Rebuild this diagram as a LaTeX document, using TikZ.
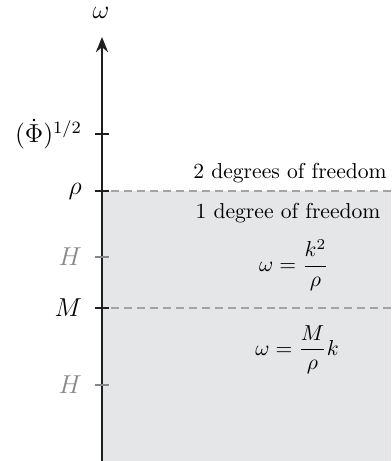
\documentclass[tikz,border=0pt]{standalone}
\usepackage{amsmath}
\usetikzlibrary{arrows.meta}

\definecolor{regiongray}{RGB}{229,230,232}
\definecolor{dashgray}{RGB}{163,163,163}
\definecolor{labelgray}{RGB}{135,135,135}

\begin{document}
\begin{tikzpicture}[x=0.463pt, y=0.463pt, >={Stealth[length=7pt, width=5.6pt]}, line width=1.15pt]
  \useasboundingbox (0,0) rectangle (391,461);
  % region below rho (shaded)
  \fill[regiongray] (102,0) rectangle (391,270);
  % frequency axis
  \coordinate (base) at (102,0);
  \coordinate (tip) at (102,424);
  \draw[->, black!88] (base) -- (tip);
  \node[font=\large] (omega) at (101,448) {$\omega$};
  % ticks on the axis
  \foreach \yy/\lab/\name in {327/{(\dot\Phi)^{1/2}}/phi, 270/\rho/rho, 153/M/mass}{
    \draw[black!88, line width=1pt] (95,\yy) -- (109,\yy);
    \node[anchor=east, inner sep=0pt, font=\large] (\name) at (83,\yy) {$\lab$};
  }
  \foreach \yy/\name in {204/hup, 76/hdown}{
    \draw[labelgray, line width=0.9pt] (95,\yy) -- (109,\yy);
    \node[anchor=east, inner sep=0pt, font=\large, text=labelgray] (\name) at (83,\yy) {$H$};
  }
  % borders between the regimes
  \draw[dashgray, line width=0.9pt, dash pattern=on 3.7pt off 2.3pt] (111,270) -- (391,270);
  \draw[dashgray, line width=0.9pt, dash pattern=on 3.7pt off 2.3pt] (111,153) -- (391,153);
  % regime labels
  \node (two) at (290,288) {2 degrees of freedom};
  \node (one) at (288,248) {1 degree of freedom};
  \node (quad) at (294,196) {$\omega=\dfrac{k^2}{\rho}$};
  \node (lin) at (297,111) {$\omega=\dfrac{M}{\rho}k$};
\end{tikzpicture}
\end{document}
